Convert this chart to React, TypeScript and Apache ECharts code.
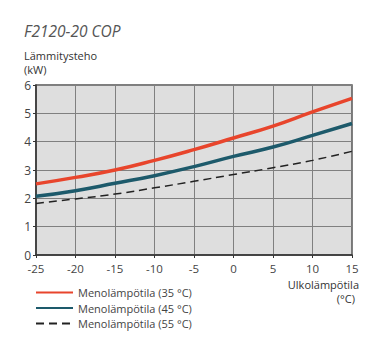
import React, { useEffect, useRef } from "react";
import * as echarts from "echarts";

const xCategories = [-25, -20, -15, -10, -5, 0, 5, 10, 15];
const s35 = [2.51, 2.74, 3.0, 3.34, 3.72, 4.13, 4.55, 5.05, 5.53];
const s45 = [2.07, 2.27, 2.53, 2.8, 3.12, 3.48, 3.81, 4.22, 4.64];
const s55 = [1.82, 1.98, 2.15, 2.37, 2.6, 2.84, 3.08, 3.34, 3.66];
const seriesNames = ["Menolämpötila (35 °C)", "Menolämpötila (45 °C)", "Menolämpötila (55 °C)"];

const FONT = "'Open Sans', 'Noto Sans', sans-serif";

export default function App() {
  const ref = useRef<HTMLDivElement>(null);
  useEffect(() => {
    document.body.style.margin = "0";
    const chart = echarts.init(ref.current!, null, { renderer: "svg" });
    chart.setOption({
      animation: false,
      backgroundColor: "#ffffff",
      textStyle: { fontFamily: FONT },
      grid: { left: 36, top: 85, right: 27, bottom: 100, show: true, backgroundColor: "#dedede", borderColor: "#555", borderWidth: 1.5 },
      xAxis: {
        type: "value",
        min: -25,
        max: 15,
        interval: 5,
        axisLine: { show: true, onZero: false, lineStyle: { color: "#333", width: 1.5 } },
        axisTick: { show: true, length: 3, lineStyle: { color: "#333" } },
        splitLine: { show: true, lineStyle: { color: "#808080", width: 1 } },
        axisLabel: { color: "#444", fontSize: 11.5, margin: 8, lineHeight: 11, fontFamily: FONT },
      },
      yAxis: {
        type: "value",
        min: 0,
        max: 6,
        interval: 1,
        axisLine: { show: true, onZero: false, lineStyle: { color: "#333", width: 1.5 } },
        axisTick: { show: true, length: 3, lineStyle: { color: "#333" } },
        splitLine: { show: true, lineStyle: { color: "#808080", width: 1 } },
        axisLabel: { color: "#444", fontSize: 12, margin: 5, lineHeight: 9, fontFamily: FONT },
      },
      legend: {
        orient: "vertical",
        left: 35,
        top: 287,
        padding: 0,
        itemWidth: 37,
        itemHeight: 10,
        itemGap: 4.5,
        itemStyle: { opacity: 0 },
        textStyle: { color: "#444", fontSize: 11, fontFamily: FONT },
        data: seriesNames,
      },
      graphic: [
        { type: "text", left: 24, top: 23, style: { text: "F2120-20 COP", fontSize: 15.5, fontStyle: "italic", fill: "#555", fontFamily: FONT } },
        { type: "text", left: 24, top: 50, style: { text: "Lämmitysteho", fontSize: 11, fill: "#333", fontFamily: FONT } },
        { type: "text", left: 24, top: 64, style: { text: "(kW)", fontSize: 11, fill: "#333", fontFamily: FONT } },
        { type: "text", right: 20, top: 279, style: { text: "Ulkolämpötila", fontSize: 11, fill: "#333", fontFamily: FONT } },
        { type: "text", right: 24, top: 293, style: { text: "(°C)", fontSize: 11, fill: "#333", fontFamily: FONT } },
      ],
      series: [
        {
          name: seriesNames[0], type: "line", smooth: true, symbol: "none",
          data: xCategories.map((x, i) => [x, s35[i]]),
          lineStyle: { color: "#e8452c", width: 3.5 }, itemStyle: { color: "#e8452c" },
        },
        {
          name: seriesNames[1], type: "line", smooth: true, symbol: "none",
          data: xCategories.map((x, i) => [x, s45[i]]),
          lineStyle: { color: "#1d5a6b", width: 3.5 }, itemStyle: { color: "#1d5a6b" },
        },
        {
          name: seriesNames[2], type: "line", smooth: true, symbol: "none",
          data: xCategories.map((x, i) => [x, s55[i]]),
          lineStyle: { color: "#222", width: 1.5, type: [8, 5] }, itemStyle: { color: "#222" },
        },
      ],
    });
    return () => chart.dispose();
  }, []);
  return <div ref={ref} style={{ width: 379, height: 355 }} />;
}
